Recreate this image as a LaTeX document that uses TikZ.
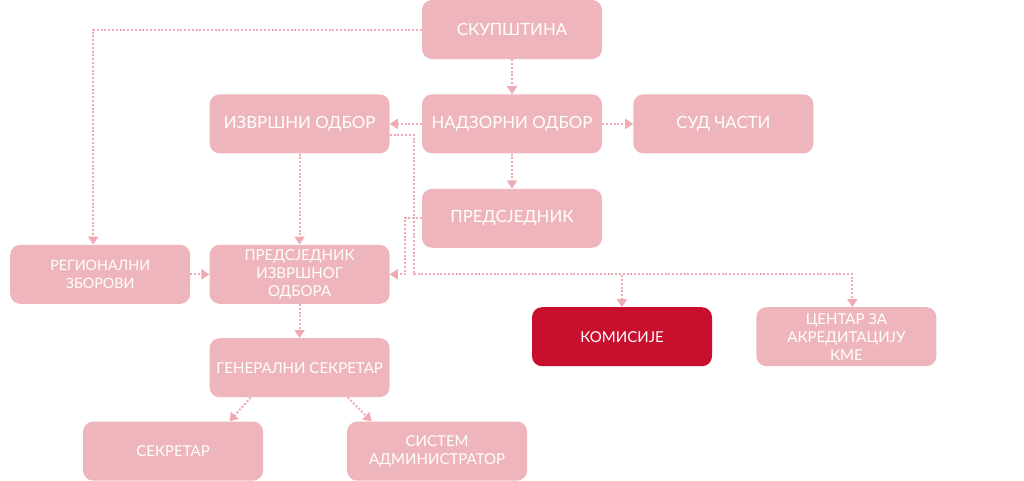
\documentclass[tikz,border=0pt]{standalone}
\usepackage{fontspec}
\newfontfamily\orgfont{Lato}
\usetikzlibrary{positioning,arrows.meta}
\definecolor{boxpink}{HTML}{EEB6BC}
\definecolor{linkpink}{HTML}{EFAAB3}
\definecolor{boxred}{HTML}{C8102E}

\begin{document}
\begin{tikzpicture}[>=Triangle,
    box/.style={rectangle, rounded corners=10pt, fill=boxpink, text=white, minimum width=180pt, minimum height=59pt, align=center, inner sep=2pt, font=\orgfont\fontsize{15}{18}\selectfont},
    topbox/.style={box, font=\orgfont\fontsize{16.8}{20}\selectfont},
    link/.style={draw=linkpink, line width=2pt, dash pattern=on 2pt off 1.8pt, -{Triangle[length=8pt,width=10pt]}}]
  \useasboundingbox (0,0) rectangle (1024pt,-480pt);

  % Nodos centrales
  \node[topbox] (skup) at (512pt,-29.5pt) {СКУПШТИНА};
  \node[topbox, below=35pt of skup] (nadzor) {НАДЗОРНИ ОДБОР};
  \node[topbox, below=35pt of nadzor] (pred) {ПРЕДСЈЕДНИК};
  \node[topbox, left=32pt of nadzor] (izvrsni) {ИЗВРШНИ ОДБОР};
  \node[topbox, right=31pt of nadzor] (sud) {СУД ЧАСТИ};

  % Izvrsni odbor i niže
  \node[box, below=91pt of izvrsni] (predizv) {ПРЕДСЈЕДНИК\\ИЗВРШНОГ\\ОДБОРА};
  \node[box, font=\orgfont\fontsize{14.3}{18}\selectfont, left=19pt of predizv] (region) {РЕГИОНАЛНИ\\ЗБОРОВИ};
  \node[box, below=34pt of predizv] (gensek) {ГЕНЕРАЛНИ СЕКРЕТАР};
  \node[box, below=24pt of gensek, xshift=-126.5pt] (sekr) {СЕКРЕТАР};
  \node[box, below=24pt of gensek, xshift=137.5pt] (sysadm) {СИСТЕМ\\АДМИНИСТРАТОР};

  % Komisije i centar
  \node[box, fill=boxred, below=59pt of pred, xshift=110pt] (komis) {КОМИСИЈЕ};
  \node[box, right=44pt of komis] (centar) {ЦЕНТАР ЗА\\АКРЕДИТАЦИЈУ\\КМЕ};
  \coordinate (bus) at ([xshift=24pt,yshift=-150.5pt]izvrsni.east);

  % Veze
  \draw[link] (skup.west) -| ([xshift=-7pt]region.north);
  \draw[link] (skup) -- (nadzor);
  \draw[link] (nadzor) -- (izvrsni);
  \draw[link] (nadzor) -- (sud);
  \draw[link] (nadzor) -- (pred);
  \draw[link] (izvrsni) -- (predizv);
  \draw[link] ([yshift=-11pt]izvrsni.east) -| (bus) -| (komis.north);
  \draw[link] (bus) -| ([xshift=6pt]centar.north);
  \draw[link] (pred.west) -- ++(-17pt,0) |- (predizv.east);
  \draw[link] (region) -- (predizv);
  \draw[link] (predizv) -- (gensek);
  \draw[link] ([xshift=-49pt]gensek.south) -- ([xshift=56.5pt]sekr.north);
  \draw[link] ([xshift=48pt]gensek.south) -- ([xshift=-65.5pt]sysadm.north);

\end{tikzpicture}
\end{document}
